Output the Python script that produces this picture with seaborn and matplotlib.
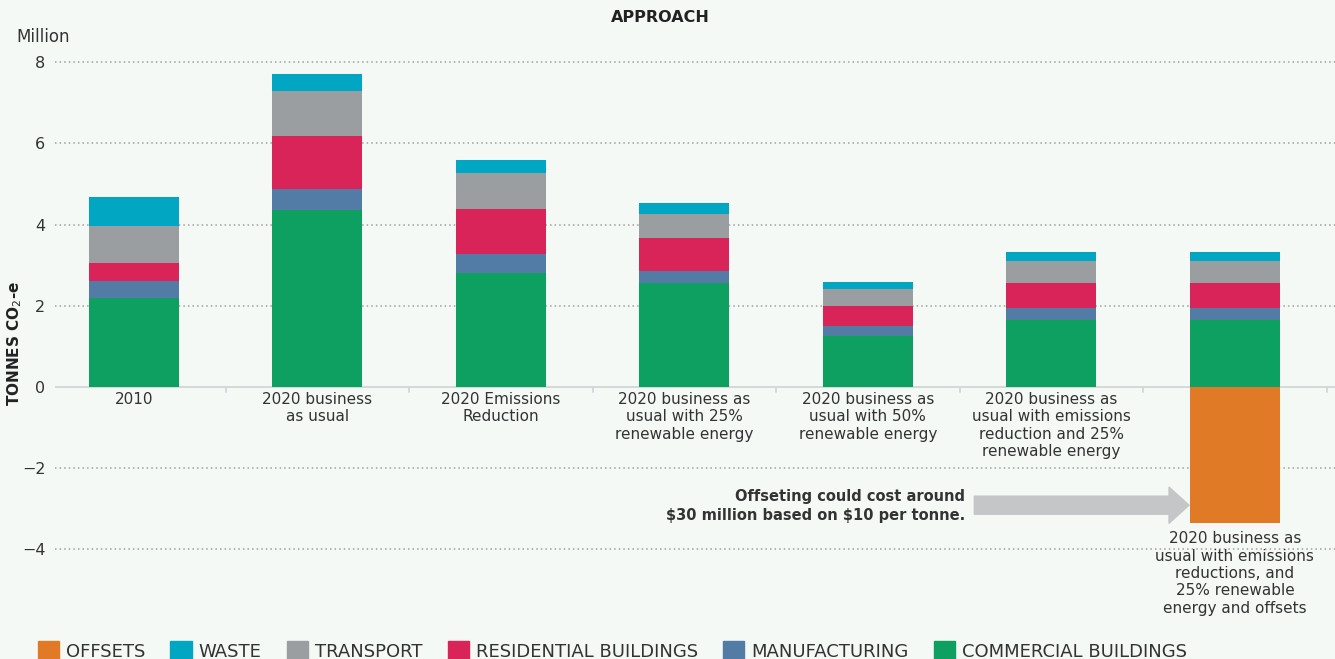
import matplotlib
matplotlib.use("Agg")
import matplotlib.pyplot as plt
import seaborn as sns
import pandas as pd
import numpy as np

categories = ["2010", "2020 business\nas usual", "2020 Emissions\nReduction",
              "2020 business as\nusual with 25%\nrenewable energy",
              "2020 business as\nusual with 50%\nrenewable energy",
              "2020 business as\nusual with emissions\nreduction and 25%\nrenewable energy",
              "2020 business as\nusual with emissions\nreductions, and\n25% renewable\nenergy and offsets"]
commercial = [2.20, 4.37, 2.81, 2.56, 1.25, 1.65, 1.65]
manufacturing = [0.41, 0.51, 0.47, 0.30, 0.25, 0.29, 0.29]
residential = [0.44, 1.31, 1.11, 0.81, 0.49, 0.62, 0.62]
transport = [0.92, 1.11, 0.89, 0.59, 0.42, 0.54, 0.54]
waste = [0.71, 0.42, 0.32, 0.28, 0.18, 0.23, 0.23]
offsets = [0, 0, 0, 0, 0, 0, -3.34]
yticks = [-4, -2, 0, 2, 4, 6, 8]

series = [("COMMERCIAL BUILDINGS", commercial, "#0da060"),
          ("MANUFACTURING", manufacturing, "#527ba5"),
          ("RESIDENTIAL BUILDINGS", residential, "#d9245a"),
          ("TRANSPORT", transport, "#9b9ea0"),
          ("WASTE", waste, "#00a6c2")]

bg = "#f4f9f6"
sns.set_theme(style="white")
plt.rcParams['font.family'] = ['DejaVu Sans']

fig = plt.figure(figsize=(13.35, 6.59), dpi=100, facecolor=bg)
ax = fig.add_axes([55/1335, 1-560/659, 1-55/1335, (560-55)/659])
ax.set_facecolor(bg)

xs = list(range(len(categories)))
bottom = np.zeros(len(categories))
handles = {}
for name, vals, col in series:
    df = pd.DataFrame({"cat": xs, "val": vals})
    sns.barplot(data=df, x="cat", y="val", color=col, width=0.49, bottom=bottom,
                ax=ax, saturation=1, errorbar=None, zorder=3, linewidth=0,
                edgecolor="none")
    handles[name] = plt.Rectangle((0, 0), 1, 1, color=col)
    bottom = bottom + np.array(vals)
df = pd.DataFrame({"cat": xs, "val": offsets})
sns.barplot(data=df, x="cat", y="val", color="#e07a27", width=0.49, ax=ax,
            saturation=1, errorbar=None, zorder=3, linewidth=0, edgecolor="none")
handles["OFFSETS"] = plt.Rectangle((0, 0), 1, 1, color="#e07a27")

ax.set_xlim(-0.43, -0.43 + 1280/183.5)
ax.set_ylim(-4.26, 8.18)
ax.set_xlabel("")
ax.set_ylabel("")
for s in ax.spines.values():
    s.set_visible(False)
ax.set_xticks([])
ax.set_yticks(yticks)
ax.set_yticklabels([f"{t}".replace("-", "\u2212") for t in yticks], fontsize=11.5, color="#333333")
ax.tick_params(axis='y', length=0, pad=7)
for t in yticks:
    if t != 0:
        ax.axhline(t, color="#a0a0a0", lw=1.1, linestyle=(0, (1, 2)), zorder=1)
ax.axhline(0, color="#d3d6d6", lw=1.3, zorder=2)
for b in np.arange(0.5, 6.6, 1.0):
    ax.plot([b, b], [0, -0.12], color="#d3d6d6", lw=1.3, zorder=2, clip_on=False)

for i, lab in enumerate(categories):
    y = -0.12 if i < 6 else -3.55
    ax.text(i, y, lab, ha="center", va="top", fontsize=11, color="#333333",
            linespacing=1.2)

ax.annotate("", xy=(5.75, -2.91), xytext=(4.58, -2.91),
            arrowprops=dict(arrowstyle="simple,head_length=0.72,head_width=1.3,tail_width=0.65",
                            color="#c4c6c7", mutation_scale=20, shrinkA=0, shrinkB=0))
ax.text(4.53, -2.93, "Offseting could cost around\n\\$30 million based on \\$10 per tonne.",
        ha="right", va="center", fontsize=10.5, fontweight="bold", color="#333333",
        linespacing=1.3)

fig.text(660/1335, 1-17/659, "APPROACH", ha="center", va="center", fontsize=11.5,
         fontweight="bold", color="#222222")
fig.text(16/1335, 1-37/659, "Million", ha="left", va="center", fontsize=12, color="#333333")
fig.text(15/1335, 1-343/659, "TONNES CO$_2$-e", ha="center", va="center", rotation=90,
         fontsize=11, fontweight="bold", color="#222222")

order = ["OFFSETS", "WASTE", "TRANSPORT", "RESIDENTIAL BUILDINGS", "MANUFACTURING",
         "COMMERCIAL BUILDINGS"]
leg = fig.legend([handles[o] for o in order], order, loc="center left",
                 bbox_to_anchor=(25/1335, 1-651/659), ncol=6, frameon=False,
                 fontsize=13, handlelength=1.17, handleheight=1.17, handletextpad=0.39,
                 columnspacing=1.4, labelcolor="#333333", borderpad=0.2)

fig.savefig("out.png", dpi=100, facecolor=bg)
